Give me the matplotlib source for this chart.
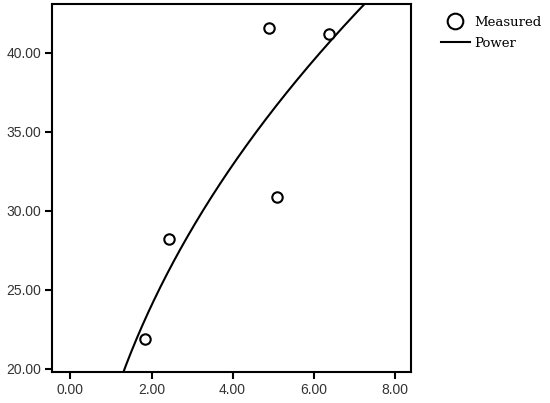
import numpy as np
import matplotlib
matplotlib.use("Agg")
import matplotlib.pyplot as plt

# Measured data points
x_meas = [1.85, 2.42, 4.90, 5.10, 6.38]
y_meas = [21.9, 28.2, 41.6, 30.9, 41.2]

xticks = [0, 2, 4, 6, 8]
yticks = [20, 25, 30, 35, 40]

# Power fit y = a * x^b (least squares on log-log)
b, ln_a = np.polyfit(np.log(x_meas), np.log(y_meas), 1)
a = np.exp(ln_a)
x_fit = np.linspace(1.0, 8.0, 300)
y_fit = a * x_fit ** b

fig = plt.figure(figsize=(5.5, 4.03), dpi=100)
ax = fig.add_axes([0.095, 0.077, 0.652, 0.913])

ax.plot(x_fit, y_fit, color="black", lw=1.5, label="Power")
ax.plot(x_meas, y_meas, "o", mfc="white", mec="black", mew=1.5, ms=7.5,
        label="Measured", zorder=3)

ax.set_xlim(-0.45, 8.4)
ax.set_ylim(19.8, 43.1)
ax.set_xticks(xticks)
ax.set_yticks(yticks)
ax.set_xticklabels(["%.2f" % v for v in xticks])
ax.set_yticklabels(["%.2f" % v for v in yticks])
ax.tick_params(direction="out", length=5, width=1.5, labelsize=10,
               colors="black", pad=3)
for lab in ax.get_xticklabels() + ax.get_yticklabels():
    lab.set_fontfamily("Liberation Sans")
    lab.set_color("#333333")
for sp in ax.spines.values():
    sp.set_linewidth(1.5)

handles, labels = ax.get_legend_handles_labels()
leg = ax.legend(handles[::-1], labels[::-1], loc="upper left",
                bbox_to_anchor=(1.05, 1.0), frameon=False, markerscale=1.5,
                handlelength=2.2, handletextpad=0.35, labelspacing=0.6,
                prop={"family": "DejaVu Serif", "size": 9.5})

fig.savefig("out.png", dpi=100)
